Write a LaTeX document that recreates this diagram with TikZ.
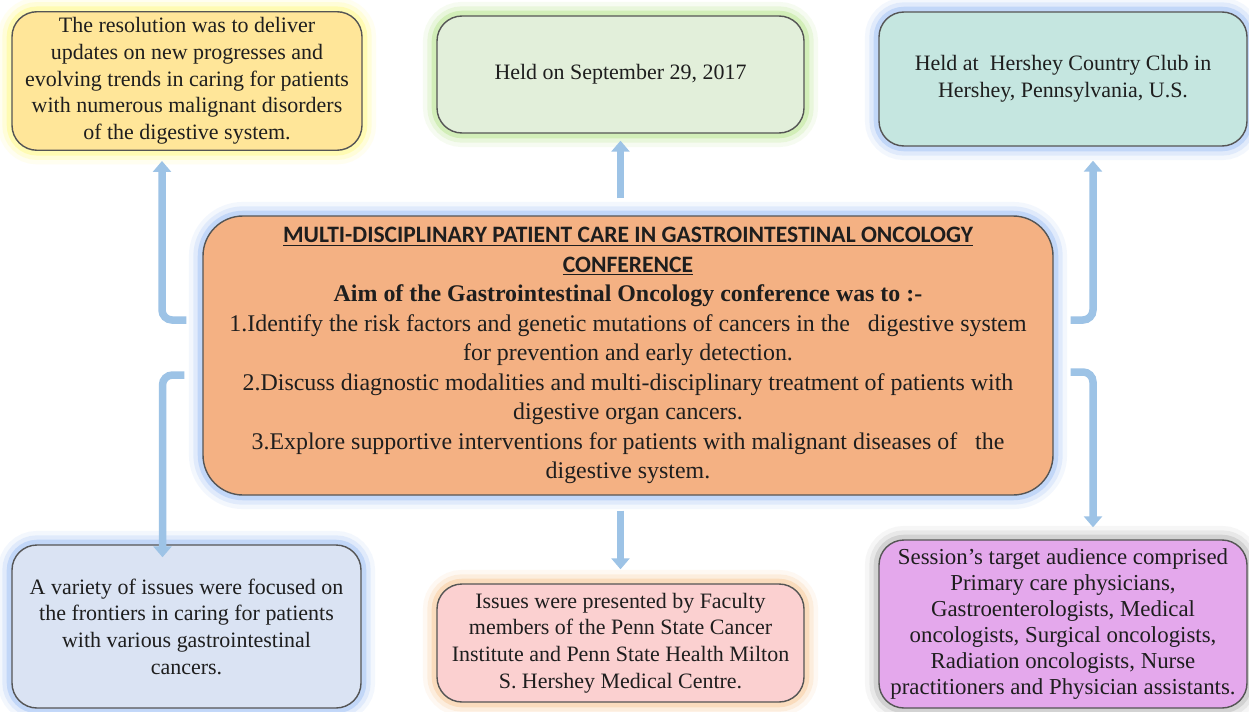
\documentclass[tikz,border=0pt]{standalone}
\usepackage{fontspec}
\setmainfont{Liberation Serif}
\newfontfamily\headfont{Carlito}
\usetikzlibrary{arrows.meta}
\definecolor{edge}{RGB}{85,85,85}
\definecolor{ink}{RGB}{30,30,30}
\definecolor{linkblue}{RGB}{157,195,230}
\definecolor{yellowfill}{RGB}{255,230,153}
\definecolor{greenfill}{RGB}{226,239,218}
\definecolor{tealfill}{RGB}{197,230,224}
\definecolor{orangefill}{RGB}{244,177,131}
\definecolor{bluefill}{RGB}{218,227,243}
\definecolor{pinkfill}{RGB}{251,208,208}
\definecolor{violetfill}{RGB}{228,168,236}
\definecolor{glowyellow}{RGB}{255,250,110}
\definecolor{glowgreen}{RGB}{170,225,120}
\definecolor{glowblue}{RGB}{140,180,245}
\definecolor{gloworange}{RGB}{248,190,130}
\definecolor{glowgray}{RGB}{170,170,170}
\tikzset{
  box/.style={draw=edge, line width=0.8pt, rounded corners=0.5cm, align=center,
    text=ink, font=\fontsize{12.5}{15.2}\selectfont},
  glow/.style={preaction={draw=#1, line width=16pt, draw opacity=0.1},
    preaction={draw=#1, line width=11pt, draw opacity=0.18},
    preaction={draw=#1, line width=6pt, draw opacity=0.35}},
  link/.style={draw=linkblue, line width=0.15cm, rounded corners=0.2cm,
    -{Triangle[width=0.36cm,length=0.22cm]}},
}
\begin{document}
\begin{tikzpicture}
\useasboundingbox[fill=white] (0,0) rectangle (24.98,14.22);
% Centre
\node[box, glow=glowblue, fill=orangefill, rounded corners=0.8cm, minimum width=17cm, minimum height=5.58cm,
  font=\fontsize{13.6}{16.8}\selectfont] (aim) at (12.56,7.11)
  {{\headfont\bfseries\fontsize{13.4}{16.8}\selectfont\underline{MULTI-DISCIPLINARY PATIENT CARE IN GASTROINTESTINAL ONCOLOGY}}\\
   {\headfont\bfseries\fontsize{13.4}{16.8}\selectfont\underline{CONFERENCE}}\\
   \textbf{Aim of the Gastrointestinal Oncology conference was to :-}\\
   1.Identify the risk factors and genetic mutations of cancers in the\ \ \ digestive system\\
   for prevention and early detection.\\
   2.Discuss diagnostic modalities and multi-disciplinary treatment of patients with\\
   digestive organ cancers.\\
   3.Explore supportive interventions for patients with malignant diseases of\ \ \ the\\
   digestive system.};
% Top row
\node[box, glow=glowyellow, fill=yellowfill, minimum width=7cm, minimum height=2.68cm] (resol) at (3.74,12.6)
  {The resolution was to deliver\\ updates on new progresses and\\ evolving trends in caring for patients\\
   with numerous malignant disorders\\ of the digestive system.};
\node[box, glow=glowgreen, fill=greenfill, minimum width=7.34cm, minimum height=2.34cm] (date) at (12.41,12.73)
  {Held on September 29, 2017};
\node[box, glow=glowblue, fill=tealfill, minimum width=7.36cm, minimum height=2.68cm] (venue) at (21.26,12.64)
  {Held at\ \ Hershey Country Club in\\ Hershey, Pennsylvania, U.S.};
% Bottom row
\node[box, glow=glowblue, fill=bluefill, minimum width=6.98cm, minimum height=3.26cm] (issues) at (3.73,1.69)
  {A variety of issues were focused on\\ the frontiers in caring for patients\\ with various gastrointestinal\\ cancers.};
\node[box, glow=gloworange, fill=pinkfill, minimum width=7.34cm, minimum height=2.36cm] (faculty) at (12.41,1.36)
  {Issues were presented by Faculty\\ members of the Penn State Cancer\\ Institute and Penn State Health Milton\\
   S. Hershey Medical Centre.};
\node[box, glow=glowgray, fill=violetfill, minimum width=7.36cm, minimum height=3.36cm,
  font=\fontsize{13}{14.8}\selectfont] (audience) at (21.26,1.74)
  {Session’s target audience comprised\\ Primary care physicians,\\ Gastroenterologists, Medical\\
   oncologists, Surgical oncologists,\\ Radiation oncologists, Nurse\\ practitioners and Physician assistants.};
% Links
\draw[link] ([xshift=-0.32cm,yshift=0.71cm]aim.west) -| ([xshift=-0.5cm,yshift=-0.2cm]resol.south);
\draw[link] ([xshift=-0.36cm,yshift=-0.39cm]aim.west) -| ([xshift=-0.48cm,yshift=-0.26cm]issues.north);
\draw[link] ([xshift=-0.15cm,yshift=0.34cm]aim.north) -- ([yshift=-0.14cm]date.south);
\draw[link] ([xshift=-0.15cm,yshift=-0.3cm]aim.south) -- ([yshift=0.28cm]faculty.north);
\draw[link] ([xshift=0.34cm,yshift=0.71cm]aim.east) -| ([xshift=0.6cm,yshift=-0.28cm]venue.south);
\draw[link] ([xshift=0.34cm,yshift=-0.33cm]aim.east) -| ([xshift=0.6cm,yshift=0.24cm]audience.north);
\end{tikzpicture}
\end{document}
